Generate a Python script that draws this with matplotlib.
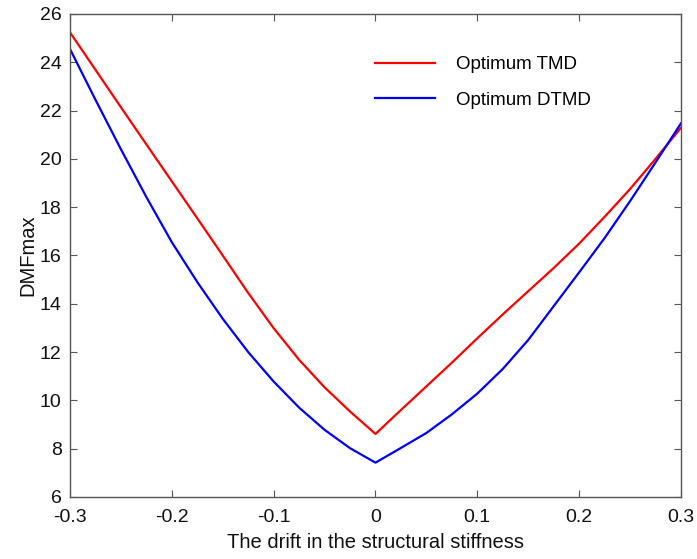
import matplotlib.pyplot as plt

# drift in structural stiffness
drift = [-0.300, -0.275, -0.250, -0.225, -0.200, -0.175, -0.150, -0.125,
         -0.100, -0.075, -0.050, -0.025, 0.000, 0.025, 0.050, 0.075,
         0.100, 0.125, 0.150, 0.175, 0.200, 0.225, 0.250, 0.275, 0.300]

# DMFmax values
tmd = [25.24, 23.69, 22.14, 20.60, 19.07, 17.54, 16.00, 14.45,
       12.99, 11.68, 10.54, 9.54, 8.61, 9.60, 10.58, 11.56,
       12.57, 13.56, 14.52, 15.48, 16.49, 17.60, 18.75, 20.00, 21.29]
dtmd = [24.55, 22.45, 20.40, 18.42, 16.55, 14.90, 13.38, 12.00,
        10.78, 9.70, 8.78, 8.02, 7.42, 8.03, 8.65, 9.42,
        10.28, 11.30, 12.50, 13.90, 15.30, 16.72, 18.25, 19.85, 21.47]

plt.rcParams['font.family'] = ['Liberation Sans', 'DejaVu Sans']

fig = plt.figure(figsize=(6.97, 5.59), dpi=100)
ax = fig.add_axes([0.1004, 0.111, 0.8766, 0.864])

ax.plot(drift, tmd, color='#ff0000', lw=1.6, label='Optimum TMD')
ax.plot(drift, dtmd, color='#0000ff', lw=1.6, label='Optimum DTMD')

ax.set_xlim(-0.3, 0.3)
ax.set_ylim(6, 26)
ax.set_xticks([-0.3, -0.2, -0.1, 0, 0.1, 0.2, 0.3])
ax.set_xticklabels(['-0.3', '-0.2', '-0.1', '0', '0.1', '0.2', '0.3'])
ax.set_yticks(range(6, 27, 2))

for s in ax.spines.values():
    s.set_color('#555555')
    s.set_linewidth(1.0)
ax.tick_params(direction='in', top=True, right=True, length=5,
               color='#555555', labelsize=14, labelcolor='#111111')
ax.tick_params(axis='x', pad=9)
ax.tick_params(axis='y', pad=6)

ax.set_xlabel('The drift in the structural stiffness', fontsize=14.5,
              color='#111111', labelpad=5)
ax.set_ylabel('DMFmax', fontsize=14.5, color='#111111', labelpad=2)

ax.legend(loc='upper left', bbox_to_anchor=(0.5, 0.913), frameon=False,
          fontsize=13.5, handlelength=3.2, handletextpad=1.07,
          labelspacing=1.0, borderpad=0, borderaxespad=0)

fig.savefig('out.png', dpi=100)
